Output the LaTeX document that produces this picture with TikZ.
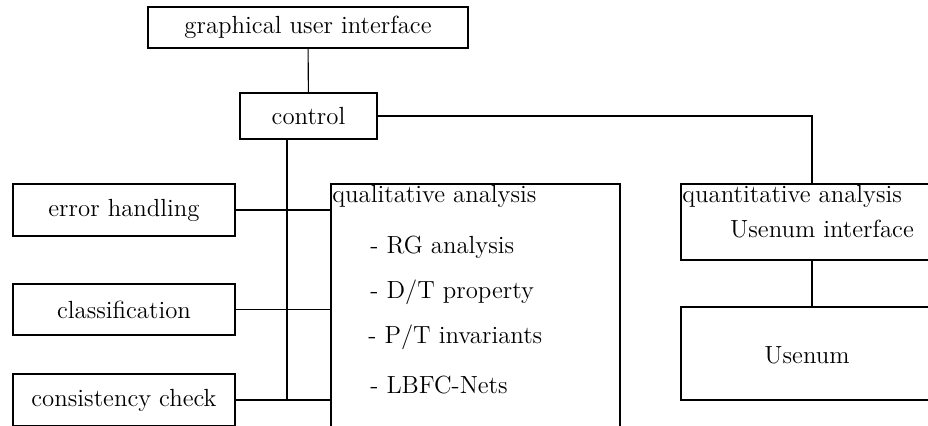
\documentclass[tikz,border=0pt]{standalone}
\usepackage{tikz}
\usetikzlibrary{positioning}
\usetikzlibrary{calc}
\tikzset{
  % Common styles for the diagram
  conn/.style={draw, line width=0.55pt},
  label/.style={inner sep=0pt, anchor=west}
}

\begin{document}
\begin{tikzpicture}[x=0.5pt, y=-0.5pt, font=\fontsize{12.4}{14}\selectfont]
    % Define styles
    \tikzstyle{block} = [rectangle, draw, line width=0.55pt, inner sep=0pt, text centered]
    \tikzstyle{frame} = [rectangle, draw, line width=0.55pt, inner sep=0pt]

    \useasboundingbox (0,0) rectangle (928,425);
    \clip (0,0) rectangle (928,425);

    % Place nodes
    \node [block, minimum width=160pt, minimum height=20.5pt] (gui) at (308,27.5) {graphical user interface};
    \node [block, minimum width=68.5pt, minimum height=23pt] (control) at (308.5,116) {control};
    \node [block, minimum width=111pt, minimum height=26pt] (error) at (124,210) {error handling};
    \node [block, minimum width=111pt, minimum height=25.5pt] (class) at (124,309.5) {classification};
    \node [block, minimum width=111pt, minimum height=26pt] (consist) at (124,400) {consistency check};
    \node [frame, minimum width=144.5pt, minimum height=133pt] (qual) at (475.5,317) {};
    \node [frame, minimum width=131pt, minimum height=38pt] (quant) at (812,222) {};
    \node [frame, minimum width=131pt, minimum height=46.5pt] (usenum) at (812,353.5) {};
    \coordinate (bus) at (287,401);

    % Texts inside the analysis boxes
    \node [label] (qualtitle) at (332,196) {qualitative analysis};
    \node [label] (rg) at (370,247) {- RG analysis};
    \node [label] (dt) at (370,292) {- D/T property};
    \node [label] (pt) at (368,337) {- P/T invariants};
    \node [label] (lbfc) at (370,385) {- LBFC-Nets};
    \node [label] (quanttitle) at (682,196) {quantitative analysis};
    \node [inner sep=0pt] (usenumif) at (822,229) {Usenum interface};
    \node [inner sep=0pt] (usenumtxt) at (807,355) {Usenum};

    % Draw edges
    \path [conn] (gui) -- (control);
    \path [conn] (control.east) -| (quant.north);
    \path [conn] (quant) -- (usenum);
    \path [conn] (control.south -| bus) -- (bus);
    \path [conn] (error.east) -- (error.east -| qual.west);
    \path [conn] (class.east) -- (class.east -| qual.west);
    \path [conn] (consist.east) -- (consist.east -| qual.west);
\end{tikzpicture}
\end{document}
